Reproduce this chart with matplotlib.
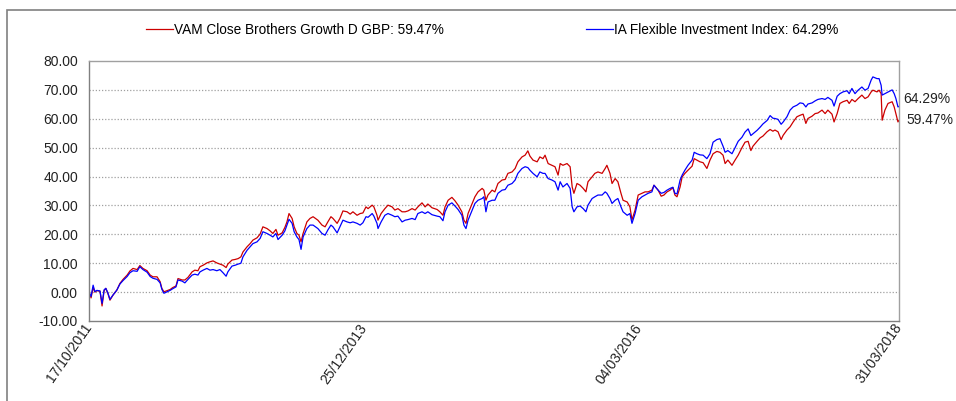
import matplotlib
matplotlib.use("Agg")
import matplotlib.pyplot as plt
from matplotlib.patches import Rectangle
import pandas as pd

plt.rcParams['font.family'] = ['Liberation Sans', 'DejaVu Sans']

start_date = "2011-10-17"
end_date = "2018-03-31"
series_names = ["VAM Close Brothers Growth D GBP: 59.47%", "IA Flexible Investment Index: 64.29%"]
end_labels = ["59.47%", "64.29%"]
tick_dates = ["2011-10-17", "2013-12-25", "2016-03-04", "2018-03-31"]
tick_labels = ["17/10/2011", "25/12/2013", "04/03/2016", "31/03/2018"]
y_ticks = [-10, 0, 10, 20, 30, 40, 50, 60, 70, 80]

# days since start date
days = [0, 3, 6, 12, 17, 23, 32, 38, 44, 49, 55, 61, 70, 81, 90, 99, 111, 119, 128, 140,
        148, 157, 169, 178, 186, 198, 207, 212, 218, 227, 236, 244, 253, 259, 271, 279, 288, 300, 308, 317,
        323, 332, 343, 352, 361, 372, 381, 390, 399, 404, 416, 425, 434, 442, 448, 460, 469, 477, 489, 498,
        506, 518, 527, 535, 544, 550, 562, 570, 576, 582, 591, 597, 605, 611, 617, 623, 634, 643, 652, 666,
        678, 687, 695, 704, 710, 722, 730, 739, 751, 760, 768, 780, 789, 797, 806, 812, 824, 829, 838, 841,
        850, 861, 870, 882, 890, 899, 911, 920, 928, 940, 949, 957, 969, 978, 986, 998, 1013, 1021, 1030, 1036,
        1045, 1056, 1065, 1074, 1085, 1091, 1097, 1103, 1115, 1123, 1132, 1144, 1149, 1155, 1161, 1173, 1181, 1190, 1202, 1211,
        1219, 1231, 1240, 1248, 1260, 1269, 1277, 1283, 1292, 1304, 1312, 1321, 1327, 1336, 1347, 1356, 1365, 1371, 1379, 1391,
        1400, 1406, 1411, 1420, 1429, 1438, 1446, 1452, 1464, 1472, 1481, 1493, 1502, 1507, 1516, 1522, 1531, 1539, 1548, 1554,
        1566, 1574, 1580, 1589, 1598, 1609, 1618, 1627, 1638, 1644, 1656, 1665, 1673, 1682, 1691, 1699, 1705, 1711, 1720, 1726,
        1734, 1743, 1755, 1761, 1769, 1778, 1787, 1798, 1807, 1816, 1827, 1836, 1845, 1851, 1859, 1871, 1880, 1889, 1900, 1909,
        1918, 1926, 1932, 1944, 1953, 1961, 1973, 1982, 1990, 1996, 2005, 2014, 2020, 2031, 2040, 2049, 2060, 2069, 2078, 2086,
        2092, 2104, 2113, 2121, 2133, 2142, 2150, 2162, 2168, 2177, 2185, 2194, 2206, 2212, 2220, 2229, 2238, 2249, 2258, 2267,
        2276, 2281, 2293, 2299, 2305, 2308, 2316, 2325, 2337, 2343, 2348, 2354, 2357]

fund = [0.0, -1.0, -2.0, 1.6, 0.0, 0.5, 0.3, -4.8, 0.5, 1.3, -0.5, -2.8, -1.0, 0.7, 3.0, 4.4, 5.9, 7.3, 8.2, 7.8,
        9.2, 8.2, 7.4, 5.9, 5.3, 5.3, 3.6, 1.3, 0.1, 0.5, 0.9, 1.6, 2.1, 4.7, 4.2, 4.2, 5.1, 7.0, 7.6, 7.4,
        8.8, 9.3, 10.1, 10.5, 10.8, 10.1, 9.7, 9.3, 8.5, 9.7, 11.1, 11.3, 11.6, 12.2, 13.9, 15.7, 16.8, 18.0, 18.8, 20.1,
        22.6, 22.0, 21.2, 20.3, 21.7, 19.7, 20.5, 22.4, 24.3, 27.2, 25.5, 22.6, 20.3, 19.7, 17.4, 20.3, 24.3, 25.5, 26.1, 24.9,
        23.2, 22.6, 24.3, 26.1, 25.5, 23.8, 25.5, 28.1, 27.8, 27.0, 27.8, 26.6, 27.2, 27.4, 29.5, 28.9, 30.1, 29.5, 26.6, 24.9,
        27.2, 28.9, 30.1, 29.5, 28.4, 28.9, 27.8, 27.8, 28.1, 28.9, 28.4, 29.5, 30.9, 29.5, 30.5, 29.2, 28.6, 27.8, 26.6, 29.5,
        31.8, 32.8, 31.6, 30.1, 27.8, 24.9, 23.8, 27.2, 30.7, 33.0, 34.7, 35.9, 35.3, 31.8, 33.6, 35.3, 34.7, 37.6, 38.8, 39.0,
        41.1, 41.6, 42.8, 45.1, 46.8, 47.4, 48.9, 47.1, 45.7, 45.1, 46.8, 46.2, 47.4, 44.5, 43.9, 43.4, 40.5, 44.5, 43.9, 44.5,
        43.4, 36.4, 34.2, 37.6, 37.0, 35.9, 34.7, 38.2, 39.9, 41.1, 41.6, 41.1, 42.8, 43.9, 41.1, 37.6, 39.3, 38.2, 34.2, 31.8,
        31.2, 29.5, 25.0, 28.4, 33.6, 34.2, 34.7, 34.7, 35.3, 37.0, 35.3, 33.2, 33.6, 34.7, 35.3, 36.2, 33.6, 33.0, 36.4, 39.9,
        41.1, 42.2, 43.6, 46.2, 45.7, 45.1, 44.8, 42.8, 45.7, 47.9, 48.7, 48.4, 47.4, 44.5, 45.7, 43.9, 45.7, 47.4, 50.0, 51.9,
        52.2, 49.0, 50.5, 52.2, 53.4, 54.0, 55.5, 56.3, 55.7, 56.1, 55.5, 52.8, 54.3, 56.1, 57.2, 58.9, 60.7, 61.2, 61.6, 58.4,
        60.1, 60.9, 61.8, 62.0, 63.0, 61.8, 63.0, 61.6, 58.9, 61.8, 65.3, 65.9, 66.4, 65.3, 66.7, 65.9, 67.0, 68.2, 67.0, 67.6,
        69.3, 69.9, 69.3, 69.9, 68.7, 59.5, 63.0, 65.3, 65.9, 64.1, 61.8, 58.9, 59.47]

index = [0.0, -0.8, -1.5, 2.4, 0.2, 0.6, 0.4, -3.9, 0.8, 1.3, -0.3, -2.5, -1.0, 0.7, 2.8, 4.0, 5.4, 6.7, 7.4, 7.2,
         8.8, 7.8, 6.9, 5.4, 4.8, 4.4, 3.2, 1.0, -0.4, 0.1, 0.6, 1.2, 1.8, 4.2, 3.8, 3.2, 4.4, 5.9, 6.2, 5.9,
         7.0, 7.6, 8.2, 7.6, 7.8, 7.4, 7.8, 6.7, 5.5, 7.0, 9.0, 9.3, 9.7, 10.0, 12.2, 14.5, 15.7, 16.8, 17.4, 18.6,
         20.9, 20.3, 19.7, 19.1, 20.3, 18.2, 19.7, 21.2, 23.2, 25.2, 23.8, 20.9, 19.1, 18.2, 14.8, 19.1, 22.0, 23.2, 23.2, 22.0,
         20.3, 19.7, 21.5, 23.2, 22.6, 20.5, 22.6, 24.9, 24.3, 24.0, 24.3, 23.8, 23.2, 24.0, 26.1, 25.9, 27.2, 26.3, 23.8, 22.0,
         24.3, 26.6, 27.2, 26.6, 26.1, 26.3, 24.3, 24.9, 25.1, 25.5, 25.1, 27.2, 27.8, 27.2, 27.8, 26.8, 26.3, 26.1, 24.7, 27.8,
         30.1, 30.9, 29.8, 28.6, 26.6, 23.2, 22.0, 24.9, 28.4, 30.7, 31.8, 32.4, 33.0, 27.8, 31.2, 31.8, 31.8, 34.2, 35.3, 35.5,
         37.0, 37.6, 38.8, 41.1, 42.8, 43.4, 43.1, 42.2, 41.1, 39.9, 41.6, 41.1, 41.1, 39.3, 38.8, 38.2, 35.3, 38.2, 36.4, 37.6,
         35.9, 29.5, 27.8, 29.5, 29.8, 28.9, 27.8, 30.1, 32.4, 33.0, 33.6, 33.6, 34.7, 34.2, 32.4, 30.7, 31.8, 32.4, 29.5, 27.8,
         26.6, 27.2, 23.8, 27.2, 31.8, 33.0, 33.6, 34.2, 34.7, 37.0, 35.3, 34.2, 34.5, 35.3, 35.9, 36.3, 34.2, 34.0, 38.8, 40.5,
         42.2, 43.9, 45.7, 48.4, 47.9, 47.5, 47.4, 46.2, 47.9, 51.9, 52.8, 53.1, 50.5, 48.4, 49.0, 47.9, 50.0, 52.2, 53.6, 55.4,
         56.5, 54.2, 54.8, 56.0, 57.1, 58.2, 59.4, 61.1, 60.2, 60.1, 59.8, 58.1, 58.9, 60.7, 63.0, 64.1, 64.7, 65.5, 65.3, 64.1,
         65.1, 65.5, 66.2, 66.7, 67.0, 66.7, 67.4, 66.4, 64.4, 67.8, 68.7, 69.3, 69.7, 68.7, 70.5, 68.7, 69.9, 71.0, 69.9, 70.5,
         73.4, 74.5, 73.9, 73.9, 71.6, 68.2, 68.7, 69.3, 70.0, 68.7, 67.0, 64.1, 64.29]

colors = ["#CC0000", "#0000FF"]

dates = pd.Timestamp(start_date) + pd.to_timedelta(days, unit="D")

fig = plt.figure(figsize=(9.56, 4.01), dpi=100)
fig.patches.append(Rectangle((7 / 956, -0.05), 1.0, 1.05 - 10 / 401, transform=fig.transFigure,
                             fill=False, edgecolor="#808080", linewidth=1.2))
ax = fig.add_axes([89 / 956, 1 - 321 / 401, 810 / 956, 260 / 401])

l1, = ax.plot(dates, fund, color=colors[0], linewidth=0.9)
l2, = ax.plot(dates, index, color=colors[1], linewidth=0.9)

ax.set_xlim(pd.Timestamp(start_date), pd.Timestamp(end_date))
ax.set_ylim(-10, 80)
ax.set_yticks(y_ticks)
ax.set_yticklabels([f"{v:.2f}" for v in y_ticks], fontsize=10, color="#222222")
ax.set_xticks(pd.to_datetime(tick_dates))
ax.set_xticklabels(tick_labels, rotation=55, ha="right", va="center", rotation_mode="anchor",
                   fontsize=10, color="#222222")
ax.tick_params(axis="y", length=0, pad=8)
ax.tick_params(axis="x", length=0, pad=3)

for v in y_ticks[1:-1]:
    ax.axhline(v, color="#A0A0A0", linewidth=0.9, linestyle=(0, (1, 1.5)), zorder=0)
for s in ax.spines.values():
    s.set_color("#A0A0A0")
    s.set_linewidth(1.0)
ax.spines["left"].set_color("#808080")
ax.spines["bottom"].set_color("#808080")

# end labels
ax.annotate(end_labels[1], xy=(pd.Timestamp(end_date), index[-1]), xytext=(3, 5),
            textcoords="offset points", fontsize=10, color="#222222", va="center", ha="left",
            annotation_clip=False)
ax.annotate(end_labels[0], xy=(pd.Timestamp(end_date), fund[-1]), xytext=(5, 0),
            textcoords="offset points", fontsize=10, color="#222222", va="center", ha="left",
            annotation_clip=False)

fig.legend([l1, l2], series_names, ncol=2, loc="center", bbox_to_anchor=(492 / 956, 1 - 30 / 401),
           frameon=False, fontsize=9.8, handlelength=2.0, handletextpad=0.1, columnspacing=10.4)

fig.savefig("out.png", dpi=100)
